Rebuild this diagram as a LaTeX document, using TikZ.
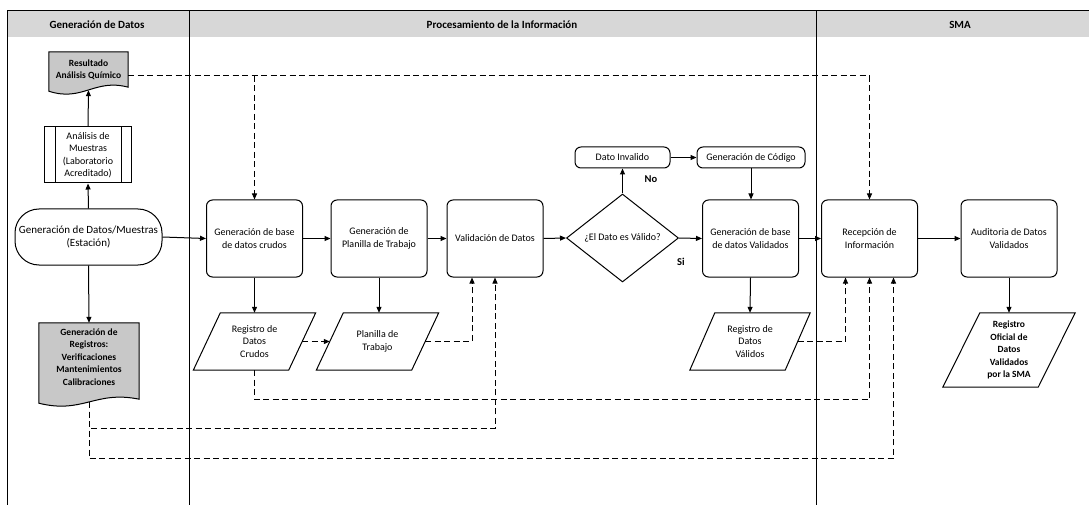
\documentclass[tikz,border=0pt]{standalone}
\usepackage{fontspec}
\setmainfont{Carlito}
\usetikzlibrary{shapes.geometric,arrows.meta,calc}
\newcommand\pgramdraw[2]{\draw[edge] ($(#1.north west)+(#2,0)$) -- ($(#1.north east)+(#2,0)$) -- ($(#1.south east)+(-#2,0)$) -- ($(#1.south west)+(-#2,0)$) -- cycle;}
\newcommand\docdraw[1]{\draw[edge,fill=docgray] (#1.north west) -- (#1.north east) -- ($(#1.south east)+(0,-3)$) .. controls ($(#1.south)+(6,-12)$) and ($(#1.south)+(-6,12)$) .. ($(#1.south west)+(0,1)$) -- cycle;}
\definecolor{docgray}{RGB}{200,200,200}
\definecolor{hdrgray}{RGB}{215,215,215}
\begin{document}
\begin{tikzpicture}[x=1pt,y=-1pt,
  base/.style={font=\fontsize{10}{12.5}\selectfont, align=center, inner sep=1pt},
  edge/.style={line width=1pt},
  proc/.style={base, draw, edge, rounded corners=6pt, minimum width=96pt, minimum height=77pt},
  small/.style={base, draw, edge, rounded corners=6pt, minimum height=21pt},
  pg/.style={base, minimum width=95pt, minimum height=57pt},
  docn/.style={base, minimum width=79pt},
  arr/.style={edge, -{Triangle[length=6pt,width=5pt]}},
  darr/.style={arr, dash pattern=on 6pt off 3.5pt},
  hdr/.style={font=\bfseries\fontsize{11}{12}\selectfont},
  lbl/.style={font=\bfseries\fontsize{10.5}{12}\selectfont},
  bold/.style={base, font=\bfseries\fontsize{9.5}{12.5}\selectfont}]
\useasboundingbox (0,0) rectangle (1089,505);
% swimlanes
\fill[hdrgray] (7,11) rectangle (1089,37);
\draw[edge] (7,11) -- (1089,11);
\draw[edge] (7,11) -- (7,505);
\draw[edge] (189,11) -- (189,505);
\draw[edge] (816,11) -- (816,505);
\node[hdr] (h1) at (97,25) {Generación de Datos};
\node[hdr] (h2) at (502,25) {Procesamiento de la Información};
\node[hdr] (h3) at (960,25) {SMA};
% left lane
\node[docn, minimum height=38pt] (res) at (88.5,71) {};
\docdraw{res}
\node[bold] (rest) at (88.5,70) {Resultado\\Análisis Químico};
\node[base, draw, edge, minimum width=87pt, minimum height=56pt] (ana) at (88,155) {Análisis de\\Muestras\\(Laboratorio\\Acreditado)};
\draw[edge] ([xshift=11pt]ana.north west) -- ([xshift=11pt]ana.south west);
\draw[edge] ([xshift=-11pt]ana.north east) -- ([xshift=-11pt]ana.south east);
\node[base, font=\fontsize{11}{13}\selectfont, draw, edge, rounded corners=24pt, minimum width=147pt, minimum height=56pt] (gen) at (88.5,237) {Generación de Datos/Muestras\\(Estación)};
\node[docn, minimum width=100pt, minimum height=79pt] (regs) at (89,362.5) {};
\docdraw{regs}
\node[bold] (regt) at (89,357) {Generación de\\Registros:\\Verificaciones\\Mantenimientos\\Calibraciones};
% main row
\node[proc] (crd) at (254.5,238.5) {Generación de base\\de datos crudos};
\node[proc] (pla) at (379,238.5) {Generación de\\Planilla de Trabajo};
\node[proc] (val) at (495,238.5) {Validación de Datos};
\node[base, draw, edge, diamond, aspect=1.27, minimum width=112pt, minimum height=88pt, inner sep=0pt] (dia) at (622.5,238) {¿El Dato es Válido?};
\node[proc] (vdb) at (750.5,238.5) {Generación de base\\de datos Validados};
\node[proc] (rec) at (869.5,238.5) {Recepción de\\Información};
\node[proc] (aud) at (1009,238.5) {Auditoria de Datos\\Validados};
\node[small, minimum width=95pt] (inv) at (622.5,157.5) {Dato Invalido};
\node[small, minimum width=108pt] (cod) at (751,157.5) {Generación de Código};
\node[lbl] (no) at (651,179) {No};
\node[lbl] (si) at (681,262) {Si};
% parallelograms
\node[pg] (pcr) at (254.5,341.5) {Registro de\\Datos\\Crudos};
\pgramdraw{pcr}{13.5}
\node[pg] (ppl) at (377.5,341.5) {Planilla de\\Trabajo};
\pgramdraw{ppl}{13.5}
\node[pg] (pva) at (750,341.5) {Registro de\\Datos\\Válidos};
\pgramdraw{pva}{12.5}
\node[pg, minimum height=74pt] (pof) at (1009,350) {};
\pgramdraw{pof}{18.5}
\node[bold] (poft) at (1009,350) {Registro\\Oficial de\\Datos\\Validados\\por la SMA};
% solid arrows
\draw[arr] (gen.north) -- (ana.south);
\draw[arr] (ana.north) -- (res.south);
\draw[arr] (gen.south) -- (regs.north);
\draw[arr] (gen.east) -- (crd.west);
\draw[arr] (crd.east) -- (pla.west);
\draw[arr] (pla.east) -- (val.west);
\draw[arr] (val.east) -- (dia.west);
\draw[arr] (dia.east) -- (vdb.west);
\draw[arr] (vdb.east) -- (rec.west);
\draw[arr] (rec.east) -- (aud.west);
\draw[arr] (dia.north) -- (inv.south);
\draw[arr] (inv.east) -- (cod.west);
\draw[arr] (cod.south) -- (cod.south |- vdb.north);
\draw[arr] (crd.south) -- (pcr.north);
\draw[arr] (pla.south) -- (pla.south |- ppl.north);
\draw[arr] (vdb.south) -- (pva.north);
\draw[arr] (aud.south) -- (pof.north);
% dashed arrows
\coordinate (rj) at ([yshift=-5pt]res.east);
\draw[darr] (rj) -| (rec.north);
\draw[darr] (rj -| crd.north) -- (crd.north);
\draw[darr] (pcr.east) -- (ppl.west);
\draw[darr] (ppl.east) -| ($(val.south)+(-23,0)$);
\draw[darr] (regs.south) |- ($(val.south)+(0,151)$) -- (val.south);
\draw[darr] (regs.south) |- ($(rec.south)+(24,181)$) -- ($(rec.south)+(24,0)$);
\draw[darr] (pcr.south) |- ($(rec.south)+(0,122)$) -- (rec.south);
\draw[darr] (pva.east) -| ($(rec.south)+(-24,0)$);
\end{tikzpicture}
\end{document}
